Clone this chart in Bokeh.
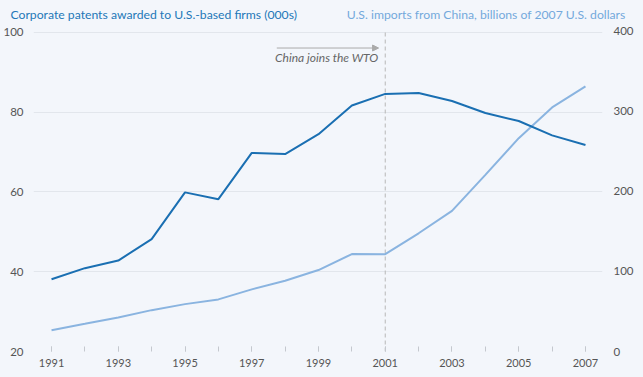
from bokeh.plotting import figure
from bokeh.layouts import column
from bokeh.models import (Range1d, LinearAxis, FixedTicker, Label, Arrow, NormalHead,
                          ColumnDataSource)
from bokeh.embed import file_html
from bokeh.resources import INLINE

years = list(range(1991, 2008))
patents = [38.1, 40.9, 42.8, 48.2, 59.9, 58.2, 69.8, 69.5, 74.5, 81.7, 84.6, 84.8, 82.8, 79.8, 77.8, 74.2, 71.8]
imports = [26.6, 34.5, 42.5, 51.6, 59.1, 65.0, 77.5, 88.3, 101.6, 121.6, 121.4, 147.5, 175.4, 220.4, 266.2, 304.5, 330.8]
left_ticks = [20, 40, 60, 80, 100]
right_ticks = [0, 100, 200, 300, 400]
label_years = [1991, 1993, 1995, 1997, 1999, 2001, 2003, 2005, 2007]
left_title = "Corporate patents awarded to U.S.-based firms (000s)"
right_title = "U.S. imports from China, billions of 2007 U.S. dollars"
event_year = 2001
event_text = "China joins the WTO"

BG = "#f3f6fb"
DARK = "#1a6fb2"
LIGHT = "#8ab4e0"
FONT = "Lato"
W = 643

# ---- header strip with the two series titles ----
h = figure(width=W, height=24, output_backend="svg", toolbar_location=None,
           x_range=Range1d(0, W), y_range=Range1d(0, 24),
           x_axis_type=None, y_axis_type=None, min_border=0)
h.frame_align = False
h.background_fill_color = BG
h.border_fill_color = BG
h.outline_line_color = None
h.grid.grid_line_color = None
h.add_layout(Label(x=10, y=10, text=left_title, text_align="left", text_baseline="middle",
                   text_font=FONT, text_font_size="12.2px", text_color="#2378b8"))
h.add_layout(Label(x=625, y=10, text=right_title, text_align="right", text_baseline="middle",
                   text_font=FONT, text_font_size="12.2px", text_color="#74a9dc"))

# ---- main chart ----
src = ColumnDataSource(dict(year=years, patents=patents, imports=imports))

p = figure(width=W, height=353, output_backend="svg", toolbar_location=None,
           x_range=Range1d(1990.46, 2007.51), y_range=Range1d(20, 102.0),
           min_border_left=33, min_border_right=41, min_border_top=0, min_border_bottom=26)
p.frame_align = False
p.background_fill_color = BG
p.border_fill_color = BG
p.outline_line_color = None

p.extra_y_ranges = {"imp": Range1d(0, 408.0)}

p.xaxis.ticker = FixedTicker(ticks=label_years, minor_ticks=years)
p.xaxis.axis_line_color = None
p.xaxis.major_tick_in = 5
p.xaxis.major_tick_out = 0
p.xaxis.minor_tick_in = 5
p.xaxis.minor_tick_out = 0
p.xaxis.major_tick_line_color = "#c4c8ce"
p.xaxis.minor_tick_line_color = "#c4c8ce"
p.xaxis.major_label_standoff = 7
p.xaxis.major_label_text_font = FONT
p.xaxis.major_label_text_font_size = "11px"
p.xaxis.major_label_text_color = "#555"

p.yaxis.ticker = FixedTicker(ticks=left_ticks)
p.yaxis.axis_line_color = None
p.yaxis.major_tick_line_color = None
p.yaxis.minor_tick_line_color = None
p.yaxis.major_label_standoff = 4
p.yaxis.major_label_text_font = FONT
p.yaxis.major_label_text_font_size = "11.5px"
p.yaxis.major_label_text_color = "#555"

ra = LinearAxis(y_range_name="imp", ticker=FixedTicker(ticks=right_ticks))
ra.axis_line_color = None
ra.major_tick_line_color = None
ra.minor_tick_line_color = None
ra.major_label_standoff = 5
ra.major_label_text_font = FONT
ra.major_label_text_font_size = "11.5px"
ra.major_label_text_color = "#555"
p.add_layout(ra, "right")

p.xgrid.grid_line_color = None
p.ygrid.grid_line_color = "#e2e6ec"
p.ygrid.grid_line_width = 1

p.segment(x0=[event_year], y0=[left_ticks[0]], x1=[event_year], y1=[left_ticks[-1]],
          line_color="#b8b8b8", line_dash="4 3", line_width=1)

p.line("year", "imports", source=src, y_range_name="imp", line_color=LIGHT, line_width=2)
p.line("year", "patents", source=src, line_color=DARK, line_width=2)

p.add_layout(Arrow(x_start=1997.75, y_start=96.1, x_end=2000.8, y_end=96.1,
                   line_color="#aaaaaa", line_width=1,
                   end=NormalHead(size=6, fill_color="#aaaaaa", line_color="#aaaaaa")))
p.add_layout(Label(x=1999.25, y=93.6, text=event_text, text_align="center",
                   text_baseline="middle", text_font=FONT, text_font_style="italic",
                   text_font_size="12px", text_color="#666"))

layout = column(h, p, spacing=0)
layout.styles = {"background-color": BG}

open("out.html", "w").write(file_html(layout, INLINE))
